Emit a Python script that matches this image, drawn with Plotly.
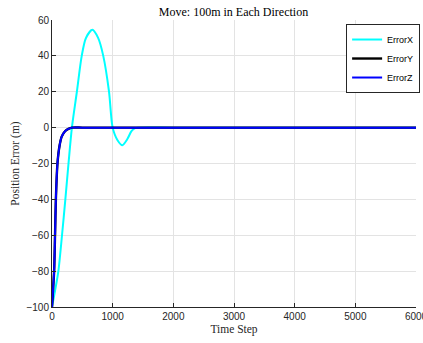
import plotly.graph_objects as go

# Position error over time for the three axes (time step, error in metres)
steps_x = [0, 50, 105, 165, 220, 272, 328, 410, 490, 560, 665, 760, 845, 940, 1000,
           1080, 1160, 1240, 1310, 1370, 1430, 2000, 3000, 4000, 5000, 6000]
error_x = [-100, -91, -80, -60, -40, -20, 0, 20, 40, 50, 54.5, 50, 40, 20, 0,
           -7, -9.8, -6.5, -2, -0.3, 0, 0, 0, 0, 0, 0]

steps_yz = [0, 18, 35, 50, 64, 90, 125, 160, 215, 270, 330, 500, 1000, 2000,
            3000, 4000, 5000, 6000]
error_y = [-100, -90, -80, -60, -40, -20, -10, -5, -2, -0.7, 0, 0, 0, 0, 0, 0, 0, 0]
error_z = [-100, -90, -80, -60, -40, -20, -10, -5, -2, -0.7, 0, 0, 0, 0, 0, 0, 0, 0]

x_ticks = [0, 1000, 2000, 3000, 4000, 5000, 6000]
y_ticks = [-100, -80, -60, -40, -20, 0, 20, 40, 60]

fig = go.Figure()
fig.add_trace(go.Scatter(x=steps_x, y=error_x, name="ErrorX", mode="lines",
                         line=dict(color="#00ffff", width=2, shape="spline", smoothing=0.8)))
fig.add_trace(go.Scatter(x=steps_yz, y=error_y, name="ErrorY", mode="lines",
                         line=dict(color="#000000", width=2.4, shape="spline", smoothing=0.8)))
fig.add_trace(go.Scatter(x=steps_yz, y=error_z, name="ErrorZ", mode="lines",
                         line=dict(color="#0000ff", width=2, shape="spline", smoothing=0.8)))

serif = "Liberation Serif, Times New Roman, serif"
sans = "Liberation Sans, Arial, sans-serif"
axis_common = dict(
    showgrid=True, gridcolor="#e3e3e3", gridwidth=1,
    zeroline=False, showline=True, linecolor="#262626", linewidth=1,
    ticks="inside", ticklen=4, tickcolor="#262626",
    tickfont=dict(family=sans, size=10, color="#262626"),
    mirror=False, automargin=False, ticklabeloverflow="allow",
)

fig.update_layout(
    width=423, height=343, autosize=False,
    margin=dict(l=52, r=7, t=20, b=36, pad=0, autoexpand=False),
    paper_bgcolor="white", plot_bgcolor="white",
    title=dict(text="Move: 100m in Each Direction", x=0.552, xanchor="center",
               y=0.967, yanchor="middle", automargin=False,
               font=dict(family=serif, size=12, color="#000000")),
    xaxis=dict(range=[0, 6000], tickvals=x_ticks,
               title=dict(text="Time Step", font=dict(family=serif, size=11.5, color="#262626"),
                          standoff=3),
               **axis_common),
    yaxis=dict(range=[-100, 60], tickvals=y_ticks,
               title=dict(text="Position Error (m)", font=dict(family=serif, size=11.5, color="#262626"),
                          standoff=4),
               **axis_common),
    legend=dict(x=0.808, y=0.986, xanchor="left", yanchor="top",
                bgcolor="white", bordercolor="#262626", borderwidth=1,
                font=dict(family=sans, size=9, color="#000000"),
                itemwidth=30, tracegroupgap=0),
    showlegend=True,
)

fig.write_html("out.html")
